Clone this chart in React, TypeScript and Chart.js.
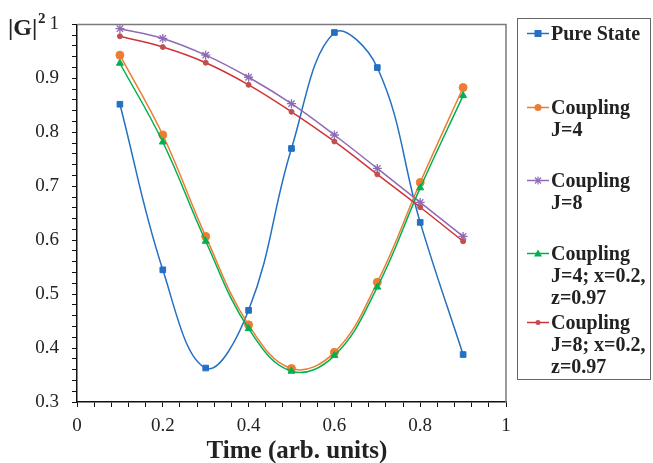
import React, { useEffect, useRef } from "react";
import { Chart, registerables } from "chart.js";

Chart.register(...registerables);

const times = [0.1, 0.2, 0.3, 0.4, 0.5, 0.6, 0.7, 0.8, 0.9];
const pureState = [0.852, 0.545, 0.363, 0.470, 0.770, 0.985, 0.920, 0.633, 0.388];
const couplingJ4 = [0.943, 0.795, 0.607, 0.443, 0.362, 0.392, 0.522, 0.707, 0.883];
const couplingJ8 = [0.992, 0.974, 0.943, 0.902, 0.853, 0.795, 0.733, 0.670, 0.607];
const couplingJ4xz = [0.928, 0.782, 0.598, 0.436, 0.357, 0.386, 0.513, 0.697, 0.868];
const couplingJ8xz = [0.978, 0.958, 0.929, 0.888, 0.838, 0.783, 0.722, 0.661, 0.598];

const xTickLabels = ["0", "0.2", "0.4", "0.6", "0.8", "1"];
const yTickLabels = ["0.3", "0.4", "0.5", "0.6", "0.7", "0.8", "0.9", "1"];

const BLUE = "#2470c2";
const ORANGE = "#ed7d31";
const PURPLE = "#8e6bb4";
const GREEN = "#00b050";
const RED = "#d0343a";
const RED_MARK = "#c0504d";

const FONT = "'Liberation Serif', 'Times New Roman', serif";

const legendItems = [
  { color: BLUE, marker: "square", y: 33, lines: ["Pure State"] },
  { color: ORANGE, marker: "circle", y: 107, lines: ["Coupling", "J=4"] },
  { color: PURPLE, marker: "star", y: 180, lines: ["Coupling", "J=8"] },
  { color: GREEN, marker: "triangle", y: 253, lines: ["Coupling", "J=4; x=0.2,", "z=0.97"] },
  { color: RED, marker: "dot", y: 322, lines: ["Coupling", "J=8; x=0.2,", "z=0.97"] },
];

function pts(vals: number[]) {
  return times.map((t, i) => ({ x: t, y: vals[i] }));
}

function fmt(v: number, labels: string[]) {
  const r = Math.round(v * 10) / 10;
  if (Math.abs(v - r) > 1e-6) return "";
  const s = String(r);
  return labels.includes(s) ? s : "";
}

function Marker({ type, color }: { type: string; color: string }) {
  const c = 11;
  let m: React.ReactNode = null;
  if (type === "square") m = <rect x={c - 3.5} y={5.5 - 3.5} width={7} height={7} fill={color} />;
  else if (type === "circle") m = <circle cx={c} cy={5.5} r={3.5} fill={color} />;
  else if (type === "dot") m = <circle cx={c} cy={5.5} r={2.5} fill={RED_MARK} />;
  else if (type === "triangle") m = <polygon points={`${c},1.5 ${c + 4},8.5 ${c - 4},8.5`} fill={color} />;
  else if (type === "star")
    m = (
      <g stroke={color} strokeWidth={1.2}>
        <line x1={c - 4} y1={5.5} x2={c + 4} y2={5.5} />
        <line x1={c} y1={1.5} x2={c} y2={9.5} />
        <line x1={c - 3} y1={2.5} x2={c + 3} y2={8.5} />
        <line x1={c - 3} y1={8.5} x2={c + 3} y2={2.5} />
      </g>
    );
  return (
    <svg width={22} height={11} style={{ position: "absolute", left: 0, top: -5.5 }}>
      <line x1={0} y1={5.5} x2={22} y2={5.5} stroke={color} strokeWidth={1.5} />
      {m}
    </svg>
  );
}

const frame = {
  id: "frame",
  afterDraw(chart: any) {
    const { ctx, chartArea } = chart;
    ctx.save();
    ctx.strokeStyle = "#7a7a7a";
    ctx.lineWidth = 1.5;
    ctx.beginPath();
    ctx.moveTo(chartArea.left, chartArea.top);
    ctx.lineTo(chartArea.right, chartArea.top);
    ctx.lineTo(chartArea.right, chartArea.bottom);
    ctx.stroke();
    ctx.restore();
  },
};

export default function App() {
  const ref = useRef<HTMLCanvasElement>(null);
  useEffect(() => {
    document.body.style.margin = "0";
    const ds = (label: string, vals: number[], color: string, style: any, radius: number, pointColor?: string) => ({
      label,
      data: pts(vals),
      borderColor: color,
      backgroundColor: pointColor || color,
      pointBackgroundColor: pointColor || color,
      pointBorderColor: pointColor || color,
      pointStyle: style,
      pointRadius: radius,
      pointBorderWidth: style === "star" ? 1.3 : 1,
      borderWidth: 1.5,
      tension: 0.4,
      fill: false,
    });
    const chart = new Chart(ref.current!, {
      type: "line",
      data: {
        datasets: [
          ds("J=8 xz", couplingJ8xz, RED, "circle", 2.5, RED_MARK),
          ds("J=4 xz", couplingJ4xz, GREEN, "triangle", 4),
          ds("J=8", couplingJ8, PURPLE, "star", 4.5),
          ds("J=4", couplingJ4, ORANGE, "circle", 4),
          ds("Pure State", pureState, BLUE, "rect", 4),
        ],
      },
      options: {
        animation: false,
        responsive: false,
        layout: { padding: { left: 0, top: 18, right: 147, bottom: 0 } },
        plugins: { legend: { display: false }, tooltip: { enabled: false } },
        scales: {
          x: {
            type: "linear",
            min: 0,
            max: 1,
            afterFit(s: any) {
              s.height = 61;
            },
            grid: { drawOnChartArea: false, tickLength: 5, color: "#111", tickWidth: 1 },
            border: { color: "#111", width: 1.5 },
            ticks: {
              stepSize: 0.04,
              autoSkip: false,
              maxRotation: 0,
              padding: 8,
              color: "#222",
              font: { family: FONT, size: 19 },
              callback: (v: any) => fmt(Number(v), xTickLabels),
            },
          },
          y: {
            type: "linear",
            min: 0.3,
            max: 1,
            afterFit(s: any) {
              s.width = 77;
            },
            grid: { drawOnChartArea: false, tickLength: 5, color: "#111", tickWidth: 1 },
            border: { color: "#111", width: 1.5 },
            ticks: {
              stepSize: 0.02,
              autoSkip: false,
              padding: 13,
              color: "#222",
              font: { family: FONT, size: 19 },
              callback: (v: any) => fmt(Number(v), yTickLabels),
            },
          },
        },
      },
      plugins: [frame],
    } as any);
    return () => chart.destroy();
  }, []);

  return (
    <div style={{ position: "relative", width: 653, height: 463, fontFamily: FONT, color: "#222" }}>
      <canvas ref={ref} width={653} height={463} style={{ position: "absolute", left: 0, top: 0 }} />
      <div style={{ position: "absolute", left: 8, top: 15, fontSize: 24, lineHeight: "24px", fontWeight: "bold" }}>|G|</div>
      <div style={{ position: "absolute", left: 38, top: 11, fontSize: 15, lineHeight: "14px", fontWeight: "bold" }}>2</div>
      <div
        style={{
          position: "absolute",
          left: 197,
          width: 200,
          top: 438,
          textAlign: "center",
          fontSize: 25,
          lineHeight: "24px",
          fontWeight: "bold",
          whiteSpace: "nowrap",
        }}
      >
        Time (arb. units)
      </div>
      <div
        style={{
          position: "absolute",
          left: 517,
          top: 18,
          width: 134,
          height: 362,
          border: "1px solid #666",
          boxSizing: "border-box",
        }}
      />
      {legendItems.map((it, i) => (
        <div key={i} style={{ position: "absolute", left: 527, top: it.y }}>
          <Marker type={it.marker} color={it.color} />
          <div
            style={{
              position: "absolute",
              left: 24,
              top: -11,
              fontSize: 20,
              lineHeight: "22px",
              fontWeight: "bold",
              whiteSpace: "nowrap",
            }}
          >
            {it.lines.map((l, j) => (
              <div key={j}>{l}</div>
            ))}
          </div>
        </div>
      ))}
    </div>
  );
}
